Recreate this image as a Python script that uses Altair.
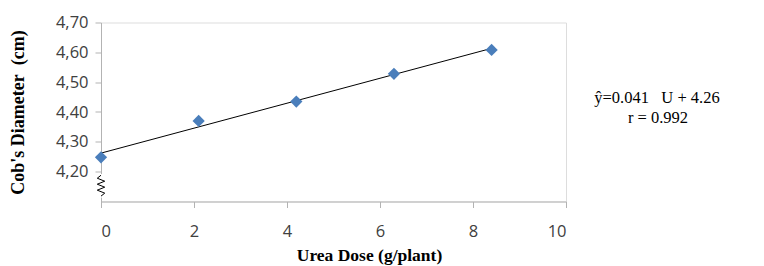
import altair as alt
import pandas as pd

# ---- data ----
dose = [0, 2.1, 4.2, 6.3, 8.4]
diameter = [4.248, 4.370, 4.435, 4.528, 4.608]
x_ticks = [0, 2, 4, 6, 8, 10]
y_ticks = [4.2, 4.3, 4.4, 4.5, 4.6, 4.7]
eq_lines = ["ŷ=0.041\u00a0\u00a0\u00a0U + 4.26", "r = 0.992"]
# axis-break squiggle (decoration on the y axis between 4.10 and 4.20)
break_y = [4.188, 4.178, 4.168, 4.158, 4.148, 4.138, 4.128, 4.118]
break_x = [0.0, -0.08, 0.08, -0.08, 0.08, -0.08, 0.08, 0.0]

df = pd.DataFrame({"dose": dose, "diameter": diameter})
brk = pd.DataFrame({"bx": break_x, "by": break_y, "i": list(range(len(break_y)))})
cover = pd.DataFrame({"cx": [0], "cy": [min(break_y) - 0.005], "cy2": [max(break_y) + 0.004]})

AX = "#b3b3b3"
xs = alt.Scale(domain=[0, 10], nice=False)
ys = alt.Scale(domain=[4.1, 4.7], nice=False, zero=False)

x_axis = alt.Axis(values=x_ticks, format="d", grid=False, domainColor=AX, tickColor=AX,
                  tickSize=6, labelPadding=16, labelFont="Open Sans", labelFontSize=16.5,
                  labelColor="#404040", title="Urea Dose (g/plant)",
                  titleFont="Liberation Serif", titleFontSize=17.5, titleFontWeight="bold",
                  titleColor="black", titleX=268, titleY=59, titleAlign="center",
                  titleBaseline="alphabetic")
y_axis = alt.Axis(values=y_ticks, grid=False, domainColor=AX, tickColor=AX, tickSize=6,
                  labelPadding=7, labelFont="Open Sans", labelFontSize=16.5, labelColor="#404040",
                  labelExpr="replace(format(datum.value, '.2f'), '.', ',')",
                  title="Cob's Diameter\u00a0\u00a0(cm)", titleFont="Liberation Serif",
                  titleFontSize=18, titleFontWeight="bold", titleColor="black",
                  titleX=-83, titleY=89.5, titleAlign="center", titleBaseline="middle",
                  titleAngle=270)


def X(f):
    return alt.X(f, type="quantitative", scale=xs, axis=x_axis)


def Y(f):
    return alt.Y(f, type="quantitative", scale=ys, axis=y_axis)


cover_l = alt.Chart(cover).mark_rule(color="white", strokeWidth=4).encode(
    x=X("cx"), y=Y("cy"), y2="cy2")
zig = alt.Chart(brk).mark_line(color="black", strokeWidth=1).encode(
    x=X("bx"), y=Y("by"), order="i:Q")
trend = alt.Chart(df).transform_regression("dose", "diameter").mark_line(
    color="black", strokeWidth=1).encode(x=X("dose"), y=Y("diameter"))
pts = alt.Chart(df).mark_point(shape="diamond", filled=True, size=150, opacity=1,
                               color="#4a7ebb").encode(x=X("dose"), y=Y("diameter"))
t1 = alt.Chart(pd.DataFrame({"t": [eq_lines[0]]})).mark_text(
    font="Liberation Serif", fontSize=16.5, color="black", align="center", baseline="middle"
).encode(text="t:N", x=alt.value(556), y=alt.value(75.5))
t2 = alt.Chart(pd.DataFrame({"t": [eq_lines[1]]})).mark_text(
    font="Liberation Serif", fontSize=16.5, color="black", align="center", baseline="middle"
).encode(text="t:N", x=alt.value(557), y=alt.value(95.5))

chart = alt.layer(cover_l, zig, trend, pts, t1, t2).properties(
    width=465, height=179,
    autosize=alt.AutoSizeParams(type="none"),
    padding={"left": 93, "top": 14.5, "right": 190, "bottom": 66},
).configure_view(stroke=None).configure(background="white")

chart.save("out.html", embed_options={"renderer": "svg", "actions": False})
